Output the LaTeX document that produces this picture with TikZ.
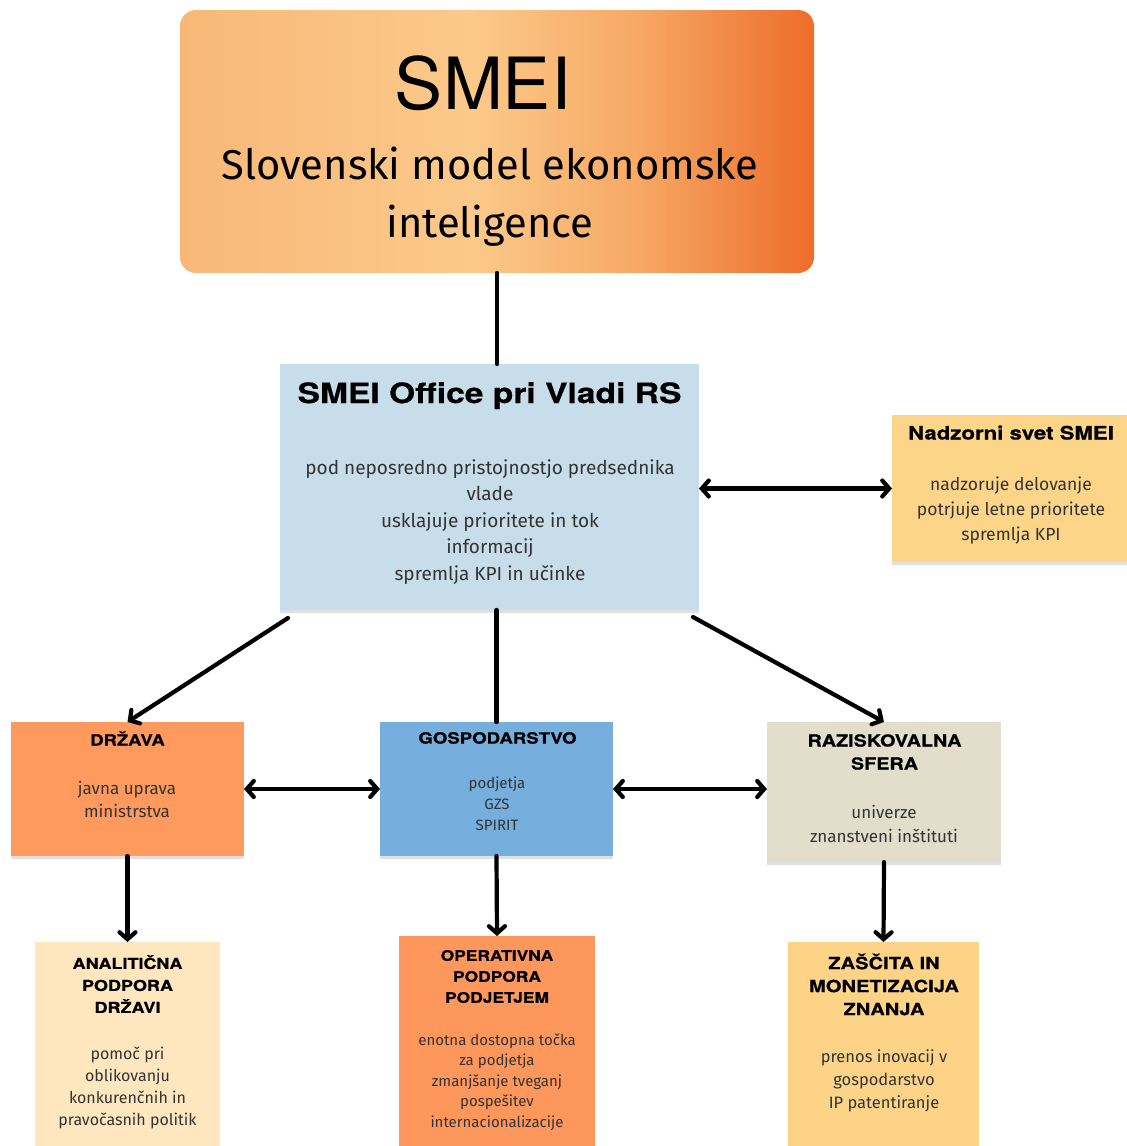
\documentclass[tikz,border=0pt]{standalone}
\usepackage{fontspec}
\setmainfont{Fira Sans}
\newfontfamily\headfont[FakeStretch=1.2, BoldFeatures={FakeBold=0.6}]{TeX Gyre Heros}
\newfontfamily\smeifont{TeX Gyre Heros}
\usetikzlibrary{arrows.meta,shadows,calc}
\definecolor{gA}{HTML}{F8B878}
\definecolor{gB}{HTML}{FBC98A}
\definecolor{gC}{HTML}{F7A965}
\definecolor{gD}{HTML}{F18644}
\definecolor{gE}{HTML}{EE6D29}
\definecolor{officeC}{HTML}{C8DDEA}
\definecolor{nadzC}{HTML}{FDD588}
\definecolor{drzC}{HTML}{FE9A5D}
\definecolor{gospC}{HTML}{76AEDD}
\definecolor{razC}{HTML}{E2DECB}
\definecolor{analC}{HTML}{FEE7BF}
\definecolor{operC}{HTML}{FE975B}
\definecolor{zascC}{HTML}{FDD487}
\definecolor{bodyC}{HTML}{333333}
\pgfdeclarehorizontalshading{topgrad}{100bp}{color(0bp)=(gA); color(25bp)=(gA); color(48bp)=(gB); color(61bp)=(gC); color(69bp)=(gD); color(75bp)=(gE); color(100bp)=(gE)}
\tikzset{
  boxC/.style={draw=none, inner sep=0pt, outer sep=0pt, rectangle,
    drop shadow={shadow xshift=0pt, shadow yshift=-3pt, opacity=0.12, fill=black}},
  headT/.style={font=\headfont\bfseries, text=black, align=center, inner sep=0pt},
  bodyT/.style={text=bodyC, align=center, inner sep=0pt},
  conn/.style={line width=4.2pt, draw=black, line cap=round},
  tipA/.style={-{Straight Barb[length=7pt,width=16pt,line cap=round]}},
  tipB/.style={{Straight Barb[length=7pt,width=16pt,line cap=round]}-{Straight Barb[length=7pt,width=16pt,line cap=round]}},
}
\begin{document}
\begin{tikzpicture}[x=1pt,y=-1pt]
\useasboundingbox (0,0) rectangle (1127,1146);
% boxes
\node[inner sep=0pt, outer sep=0pt, rounded corners=16pt, shading=topgrad, minimum width=634pt, minimum height=263pt] (top) at (497,141.5) {};
\node[boxC, fill=officeC, minimum width=419pt, minimum height=246pt] (office) at (489.5,487) {};
\node[boxC, fill=nadzC, minimum width=235pt, minimum height=147pt] (nadz) at (1009.5,488.5) {};
\node[boxC, fill=drzC, minimum width=233pt, minimum height=134pt] (drz) at (127.5,789) {};
\node[boxC, fill=gospC, minimum width=233pt, minimum height=134pt] (gosp) at (496.5,789) {};
\node[boxC, fill=razC, minimum width=234pt, minimum height=140pt] (raz) at (884,792) {};
\node[boxC, fill=analC, minimum width=185pt, minimum height=204pt] (anal) at (127.5,1044) {};
\node[boxC, fill=operC, minimum width=196pt, minimum height=210pt] (oper) at (497,1041) {};
\node[boxC, fill=zascC, minimum width=191pt, minimum height=204pt] (zasc) at (883.5,1044) {};
% texts
\node[inner sep=0pt, font=\smeifont\fontsize{72}{80}\selectfont, anchor=base] (tSmei) at (483,109) {SMEI};
\node[inner sep=0pt, align=center, font=\fontsize{41.7}{58}\selectfont] (tSub) at (490,197) {Slovenski model ekonomske\\inteligence};
\node[headT, font=\headfont\bfseries\fontsize{28}{32}\selectfont, anchor=base] (tOff) at (489.5,403) {SMEI Office pri Vladi RS};
\node[bodyT, font=\fontsize{19}{26.5}\selectfont] (bOff) at (490,522) {pod neposredno pristojnostjo predsednika\\vlade\\usklajuje prioritete in tok\\informacij\\spremlja KPI in učinke};
\node[headT, font=\headfont\bfseries\fontsize{18.5}{22}\selectfont, anchor=base] (tNadz) at (1011,439.5) {Nadzorni svet SMEI};
\node[bodyT, font=\fontsize{17.5}{25}\selectfont] (bNadz) at (1011,511) {nadzoruje delovanje\\potrjuje letne prioritete\\spremlja KPI};
\node[headT, font=\headfont\bfseries\fontsize{15.4}{20}\selectfont, anchor=base] (tDrz) at (127.5,745.5) {DRŽAVA};
\node[bodyT, font=\fontsize{17}{23}\selectfont] (bDrz) at (127,799.5) {javna uprava\\ministrstva};
\node[headT, font=\headfont\bfseries\fontsize{15.5}{20}\selectfont, anchor=base] (tGosp) at (497.5,743.6) {GOSPODARSTVO};
\node[bodyT, font=\fontsize{15}{21}\selectfont] (bGosp) at (497,804) {podjetja\\GZS\\SPIRIT};
\node[headT, font=\headfont\bfseries\fontsize{16.5}{23}\selectfont] (tRaz) at (884.5,752) {RAZISKOVALNA\\SFERA};
\node[bodyT, font=\fontsize{17}{24}\selectfont] (bRaz) at (884,823.5) {univerze\\znanstveni inštituti};
\node[headT, font=\headfont\bfseries\fontsize{15}{22}\selectfont] (tAnal) at (127.5,984) {ANALITIČNA\\PODPORA\\DRŽAVI};
\node[bodyT, font=\fontsize{16}{22}\selectfont] (bAnal) at (127.5,1088) {pomoč pri\\oblikovanju\\konkurenčnih in\\pravočasnih politik};
\node[headT, font=\headfont\bfseries\fontsize{14.5}{21}\selectfont] (tOper) at (497,976.5) {OPERATIVNA\\PODPORA\\PODJETJEM};
\node[bodyT, font=\fontsize{15}{20.5}\selectfont] (bOper) at (497,1082) {enotna dostopna točka\\za podjetja\\zmanjšanje tveganj\\pospešitev\\internacionalizacije};
\node[headT, font=\headfont\bfseries\fontsize{16.8}{23}\selectfont] (tZasc) at (884,984.5) {ZAŠČITA IN\\MONETIZACIJA\\ZNANJA};
\node[bodyT, font=\fontsize{16.5}{23}\selectfont] (bZasc) at (884,1081) {prenos inovacij v\\gospodarstvo\\IP patentiranje};
% connectors
\coordinate (oL) at ($(office.south west)+(8,8)$);
\coordinate (oR) at ($(office.south east)+(-6,7)$);
\draw[conn] (top.south) -- (top.south |- office.north);
\draw[conn, tipB] (nadz.west -| office.east) -- (nadz.west);
\draw[conn, tipA] (oL) -- (drz.north);
\draw[conn] (gosp.north |- office.south) -- (gosp.north);
\draw[conn, tipA] (oR) -- (raz.north);
\draw[conn, tipB] (drz.east) -- (gosp.west);
\draw[conn, tipB] (gosp.east) -- (raz.west |- gosp.east);
\draw[conn, tipA] (drz.south) -- (anal.north);
\draw[conn, tipA] (gosp.south) -- (oper.north);
\draw[conn, tipA] (raz.south) -- (zasc.north);
\end{tikzpicture}
\end{document}
